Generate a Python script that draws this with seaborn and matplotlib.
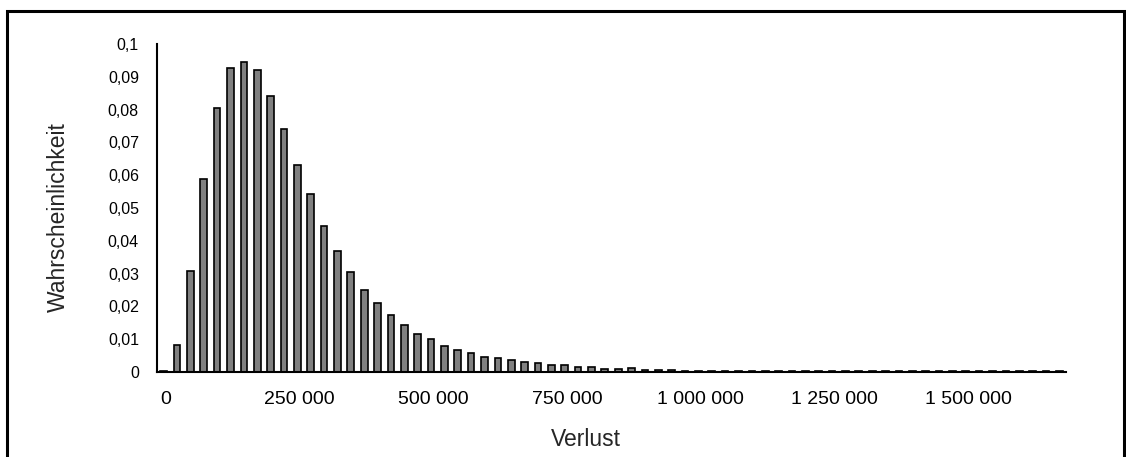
import numpy as np
import pandas as pd
import matplotlib
matplotlib.use('Agg')
import matplotlib.pyplot as plt
import matplotlib.transforms as mtrans
import seaborn as sns
from matplotlib.patches import Rectangle

verlust = list(range(0, 1700000, 25000))
wahrsch = [0.0004, 0.0083, 0.0309, 0.0588, 0.0805, 0.0926, 0.0946, 0.0921, 0.0841, 0.0742,
           0.0631, 0.0542, 0.0446, 0.0368, 0.0304, 0.0251, 0.0209, 0.0173, 0.0142, 0.0116,
           0.0100, 0.0079, 0.0068, 0.0057, 0.0047, 0.0042, 0.0037, 0.0030, 0.0026, 0.0020,
           0.0020, 0.0015, 0.0015, 0.0010, 0.0010, 0.0011, 0.0006, 0.0005, 0.0005, 0.0004,
           0.0004, 0.0003, 0.0003, 0.0003, 0.0003, 0.0003, 0.0003, 0.0003, 0.0003, 0.0003,
           0.0003, 0.0002, 0.0002, 0.0002, 0.0002, 0.0002, 0.0002, 0.0002, 0.0002, 0.0002,
           0.0002, 0.0002, 0.0002, 0.0002, 0.0002, 0.0002, 0.0002, 0.0002]
xticklabels = ['0', '250 000', '500 000', '750 000', '1 000 000', '1 250 000', '1 500 000']
yticklabels = ['0', '0,01', '0,02', '0,03', '0,04', '0,05', '0,06', '0,07', '0,08', '0,09', '0,1']

df = pd.DataFrame({'Verlust': verlust, 'Wahrscheinlichkeit': wahrsch})

sns.set_style('white')
plt.rcParams['font.family'] = ['Liberation Sans', 'DejaVu Sans']

W, H = 1126, 457
fig = plt.figure(figsize=(W / 100, H / 100), dpi=100)
ax = fig.add_axes([157 / W, 1 - 372 / H, (1066 - 157) / W, (372 - 44) / H])

sns.barplot(data=df, x='Verlust', y='Wahrscheinlichkeit', order=verlust, ax=ax,
            color='#808080', saturation=1, edgecolor='black', linewidth=1.2, width=0.5)

ax.set_xlim(-0.5, len(verlust) - 0.5)
ax.set_ylim(0, 0.1)
ax.set_xticks(np.arange(-0.5, 60, 10))
ax.set_xticklabels(xticklabels)
ax.set_yticks(np.linspace(0, 0.1, 11))
ax.set_yticklabels(yticklabels)
ax.tick_params(axis='both', direction='out', length=5, width=1.2, color='black',
               labelcolor='black')
ax.tick_params(axis='x', labelsize=14, pad=9)
ax.tick_params(axis='y', labelsize=11.5, pad=8)

# Beschriftungen der x-Achse leicht nach rechts versetzt (wie in Excel)
shift = mtrans.ScaledTranslation(9 / 100, 0, fig.dpi_scale_trans)
for lab in ax.get_xticklabels():
    lab.set_transform(lab.get_transform() + shift)

for s in ['top', 'right']:
    ax.spines[s].set_visible(False)
for s in ['left', 'bottom']:
    ax.spines[s].set_color('black')
    ax.spines[s].set_linewidth(1.5)

ax.set_xlabel('')
ax.set_ylabel('')
fig.text(586 / W, 1 - 440 / H, 'Verlust', ha='center', va='center', fontsize=16.5)
fig.text(58 / W, 1 - 217 / H, 'Wahrscheinlichkeit', ha='center', va='center',
         rotation=90, fontsize=16.5)

# Rahmen um das Diagramm
fig.patches.append(Rectangle((7 / W, -0.1), (1124 - 7) / W, 1.1 - 11 / H,
                             transform=fig.transFigure, fill=False,
                             edgecolor='black', linewidth=2.2, clip_on=False))

fig.savefig('out.png', dpi=100)
